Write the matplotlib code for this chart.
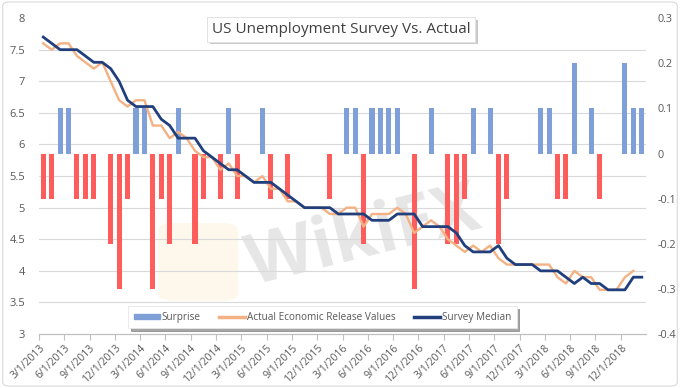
import numpy as np
import matplotlib
matplotlib.use('Agg')
import matplotlib.pyplot as plt
import matplotlib.patheffects as pe
from matplotlib.patches import Patch, FancyBboxPatch
from matplotlib.lines import Line2D

plt.rcParams['font.family'] = ['Open Sans', 'DejaVu Sans']

# monthly categories 3/2013 .. 2/2019
n_months = 72

actual = [7.6, 7.5, 7.6, 7.6, 7.4, 7.3, 7.2, 7.3, 7.0, 6.7,
          6.6, 6.7, 6.7, 6.3, 6.3, 6.1, 6.2, 6.1, 5.9, 5.8, 5.8, 5.6,
          5.7, 5.5, 5.5, 5.4, 5.5, 5.3, 5.3, 5.1, 5.1, 5.0, 5.0, 5.0,
          4.9, 4.9, 5.0, 5.0, 4.7, 4.9, 4.9, 4.9, 5.0, 4.9, 4.6, 4.7,
          4.8, 4.7, 4.5, 4.4, 4.3, 4.4, 4.3, 4.4, 4.2, 4.1, 4.1, 4.1,
          4.1, 4.1, 4.1, 3.9, 3.8, 4.0, 3.9, 3.9, 3.7, 3.7, 3.7, 3.9, 4.0, np.nan]

survey = [7.7, 7.6, 7.5, 7.5, 7.5, 7.4, 7.3, 7.3, 7.2, 7.0,
          6.7, 6.6, 6.6, 6.6, 6.4, 6.3, 6.1, 6.1, 6.1, 5.9, 5.8, 5.7,
          5.6, 5.6, 5.5, 5.4, 5.4, 5.4, 5.3, 5.2, 5.1, 5.0, 5.0, 5.0,
          5.0, 4.9, 4.9, 4.9, 4.9, 4.8, 4.8, 4.8, 4.9, 4.9, 4.9, 4.7,
          4.7, 4.7, 4.7, 4.6, 4.4, 4.3, 4.3, 4.3, 4.4, 4.2, 4.1, 4.1,
          4.1, 4.0, 4.0, 4.0, 3.9, 3.8, 3.9, 3.8, 3.8, 3.7, 3.7, 3.7, 3.9, 3.9]

surprise = [-0.1, -0.1, 0.1, 0.1, -0.1, -0.1, -0.1, 0, -0.2, -0.3,
            -0.1, 0.1, 0.1, -0.3, -0.1, -0.2, 0.1, 0, -0.2, -0.1, 0, -0.1,
            0.1, -0.1, 0, 0, 0.1, -0.1, 0, -0.1, 0, 0, 0, 0,
            -0.1, 0, 0.1, 0.1, -0.2, 0.1, 0.1, 0.1, 0.1, 0, -0.3, 0,
            0.1, 0, -0.2, -0.2, -0.1, 0.1, 0, 0.1, -0.2, -0.1, 0, 0,
            0, 0.1, 0.1, -0.1, -0.1, 0.2, 0, 0.1, -0.1, 0, 0, 0.2, 0.1, 0.1]

tick_labels = ['3/1/2013', '6/1/2013', '9/1/2013', '12/1/2013',
               '3/1/2014', '6/1/2014', '9/1/2014', '12/1/2014',
               '3/1/2015', '6/1/2015', '9/1/2015', '12/1/2015',
               '3/1/2016', '6/1/2016', '9/1/2016', '12/1/2016',
               '3/1/2017', '6/1/2017', '9/1/2017', '12/1/2017',
               '3/1/2018', '6/1/2018', '9/1/2018', '12/1/2018']

right_ticks = [-0.4, -0.3, -0.2, -0.1, 0, 0.1, 0.2, 0.3]
left_ticks = [3, 3.5, 4, 4.5, 5, 5.5, 6, 6.5, 7, 7.5, 8]

BLUE = '#7f9fd9'
RED = '#ff5c5c'
ORANGE = '#f4b183'
NAVY = '#203f7c'
GRAY = '#595959'

x = np.arange(n_months)
surprise = np.array(surprise)

fig = plt.figure(figsize=(6.8, 3.88), dpi=100)
fig.add_artist(FancyBboxPatch((0.004, 0.005), 0.992, 0.99, boxstyle='round,pad=0,rounding_size=0.01',
                              transform=fig.transFigure, fc='white', ec='#d9d9d9', lw=0.8, zorder=-2))
# watermark logo
fig.add_artist(FancyBboxPatch((0.232, 0.225), 0.118, 0.2, boxstyle='round,pad=0,rounding_size=0.02',
                              transform=fig.transFigure, fc='#fdf3dc', ec='none', alpha=0.55, zorder=-1))

ax_bars = fig.add_axes([0.0574, 0.139, 0.8926, 0.8144])
ax_lines = ax_bars.twinx()

ax_bars.text(0.535, 0.385, 'WikiFX', transform=fig.transFigure, fontsize=50, fontweight='bold',
             color='#e6e6e6', rotation=14, ha='center', va='center', zorder=0.6)

colors = [BLUE if v > 0 else RED for v in surprise]
ax_bars.bar(x, surprise, width=0.6, color=colors, zorder=2)
ax_bars.set_ylim(-0.4, 0.3)
ax_bars.set_yticks(right_ticks)
ax_bars.set_yticklabels([f'{v:g}' for v in right_ticks])
ax_bars.set_yticks(np.linspace(-0.4, 0.3, 11), minor=True)
ax_bars.grid(True, which='minor', axis='y', color='#d9d9d9', lw=0.8, zorder=0)
ax_bars.yaxis.tick_right()
ax_bars.tick_params(axis='y', which='both', length=0, pad=8, colors=GRAY, labelsize=7.8)

ax_lines.plot(x, actual, color=ORANGE, lw=1.7, zorder=3)
ax_lines.plot(x, survey, color=NAVY, lw=2.0, zorder=4)
ax_lines.set_ylim(3, 8)
ax_lines.set_yticks(left_ticks)
ax_lines.set_yticklabels([f'{v:g}' for v in left_ticks])
ax_lines.yaxis.tick_left()
ax_lines.tick_params(axis='y', length=0, pad=10, colors=GRAY, labelsize=8)

ax_bars.set_xlim(-0.5, n_months - 0.5)
ax_bars.set_xticks(np.arange(len(tick_labels)) * 3 - 0.5)
ax_bars.set_xticklabels(tick_labels, rotation=45, ha='right', rotation_mode='anchor')
ax_bars.tick_params(axis='x', length=4, width=0.8, color='#bfbfbf', labelcolor=GRAY, labelsize=7.5, pad=2)

for a in (ax_bars, ax_lines):
    for s in ('top', 'left', 'right'):
        a.spines[s].set_visible(False)
    a.spines['bottom'].set_color('#bfbfbf')
    a.patch.set_visible(False)

handles = [Patch(color=BLUE), Line2D([], [], color=ORANGE, lw=2.5), Line2D([], [], color=NAVY, lw=2.5)]
leg = ax_lines.legend(handles, ['Surprise', 'Actual Economic Release Values', 'Survey Median'],
                      loc='center', bbox_to_anchor=(0.474, 0.182), bbox_transform=fig.transFigure,
                      ncol=3, fontsize=7.2, frameon=True, fancybox=False, shadow=True,
                      handlelength=2.6, handleheight=0.45, handletextpad=0.15, columnspacing=1.9,
                      borderpad=0.55, labelcolor=GRAY)
leg.get_frame().set_edgecolor('#e6e6e6')
leg.get_frame().set_linewidth(0.6)

title = fig.text(0.502, 0.924, 'US Unemployment Survey Vs. Actual', ha='center', va='center',
                 fontsize=11, color='#404040',
                 bbox=dict(boxstyle='square,pad=0.3', fc='white', ec='#e0e0e0', lw=0.6))
title.get_bbox_patch().set_path_effects([pe.withSimplePatchShadow(offset=(2, -2), alpha=0.3), pe.Normal()])

fig.savefig('out.png', dpi=100)
